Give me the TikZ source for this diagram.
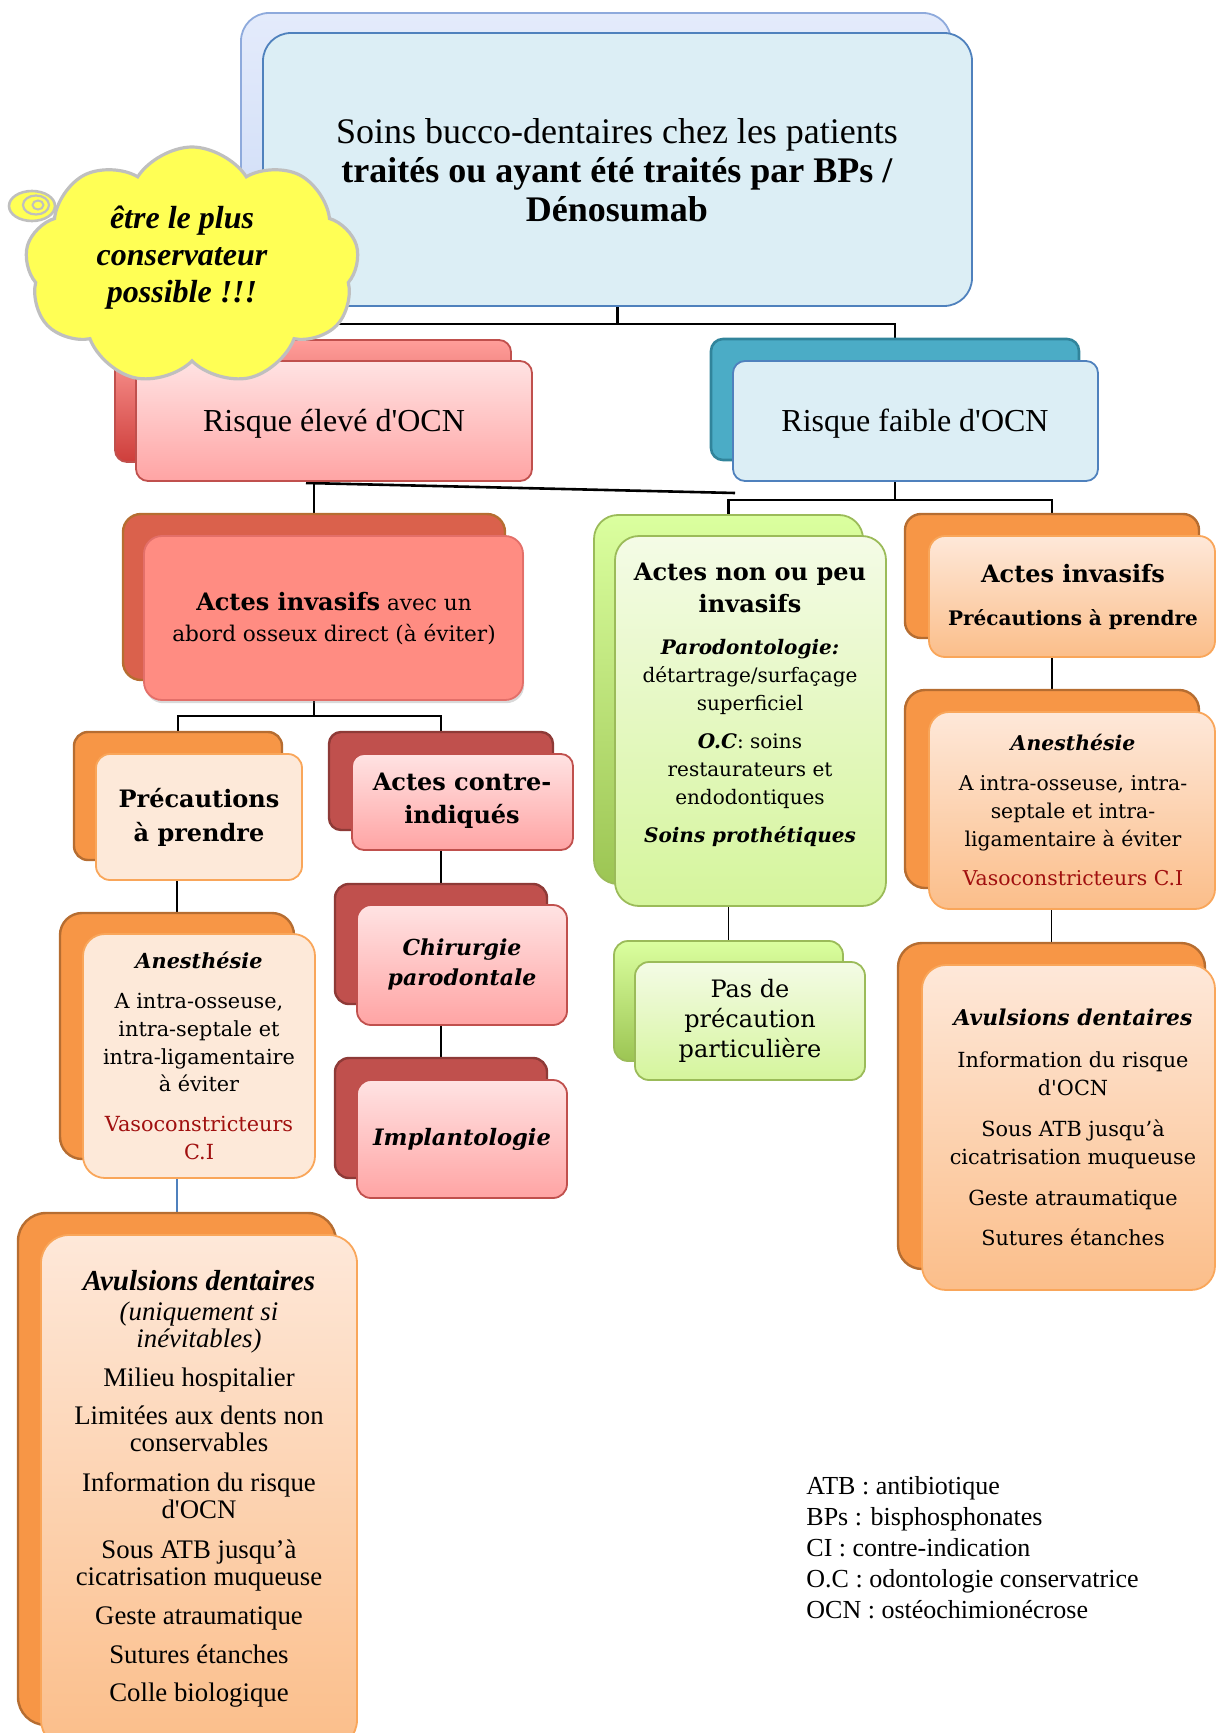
\documentclass[tikz,border=0pt]{standalone}
\usepackage{fontspec}
\setmainfont{Liberation Serif}
\newfontfamily\widefont{DejaVu Serif}
\usetikzlibrary{shapes.geometric,shapes.symbols,shadows,backgrounds,calc}

\definecolor{tbTop}{HTML}{E4EBFB}
\definecolor{tbBot}{HTML}{C9D9F6}
\definecolor{tbLine}{HTML}{8EAADC}
\definecolor{cLBlue}{HTML}{DCEEF5}
\definecolor{bLine}{HTML}{4F81BD}
\definecolor{cTeal}{HTML}{4BACC6}
\definecolor{tealLine}{HTML}{31849B}
\definecolor{elTop}{HTML}{FF9E9A}
\definecolor{elBot}{HTML}{CE3E3B}
\definecolor{rLine}{HTML}{C0504D}
\definecolor{pkTop}{HTML}{FFE3E3}
\definecolor{pkBot}{HTML}{FFA4A4}
\definecolor{aiBack}{HTML}{DA614C}
\definecolor{brLine}{HTML}{B66D31}
\definecolor{cCoral}{HTML}{FF8C82}
\definecolor{coralLine}{HTML}{E36F69}
\definecolor{cOrange}{HTML}{F79646}
\definecolor{cPeach}{HTML}{FDE9D9}
\definecolor{peachTop}{HTML}{FEE8D9}
\definecolor{peachBot}{HTML}{FBBE8A}
\definecolor{oLine}{HTML}{F9A65A}
\definecolor{dRed}{HTML}{C0504D}
\definecolor{dRedLine}{HTML}{8E3A37}
\definecolor{gBTop}{HTML}{DBFF9F}
\definecolor{gBBot}{HTML}{9CC553}
\definecolor{gLine}{HTML}{9BBB59}
\definecolor{gFTop}{HTML}{F4FBE6}
\definecolor{gFBot}{HTML}{D5F59C}
\definecolor{cYellow}{HTML}{FFFF55}
\definecolor{cGray}{HTML}{BFBFBF}
\definecolor{cRed}{HTML}{A00F0F}

\newcommand\mkbox[7][7pt]{\node[#2,rounded corners=#1,minimum width={(#6-#4)*0.5pt},minimum height={(#7-#5)*0.5pt}] (#3) at ({(#4+#6)/2},{(#5+#7)/2}) {};}
\newcommand\fsz[2]{\fontsize{#1}{#2}\selectfont}
\newcommand\sq{\textquotesingle}

\begin{document}
\begin{tikzpicture}[x=0.5pt,y=-0.5pt,
  bx/.style={rectangle,line width=0.9pt,inner sep=0pt,outer sep=0pt},
  titleB/.style={bx,draw=tbLine,top color=tbTop,bottom color=tbBot},
  titleF/.style={bx,draw=bLine,fill=cLBlue},
  elevB/.style={bx,draw=rLine,top color=elTop,bottom color=elBot},
  pinkF/.style={bx,draw=rLine,top color=pkTop,bottom color=pkBot},
  tealB/.style={bx,draw=tealLine,line width=1.3pt,fill=cTeal},
  blueF/.style={bx,draw=bLine,fill=cLBlue},
  aiBk/.style={bx,draw=brLine,line width=1.2pt,fill=aiBack},
  aiFr/.style={bx,draw=coralLine,fill=cCoral,drop shadow={shadow xshift=0.6pt,shadow yshift=-1.6pt,opacity=0.3}},
  orB/.style={bx,draw=brLine,line width=1.2pt,fill=cOrange},
  orF/.style={bx,draw=oLine,fill=cPeach},
  orG/.style={bx,draw=oLine,top color=peachTop,bottom color=peachBot},
  drB/.style={bx,draw=dRedLine,line width=1.2pt,fill=dRed},
  grB/.style={bx,draw=gLine,top color=gBTop,bottom color=gBBot},
  grF/.style={bx,draw=gLine,top color=gFTop,bottom color=gFBot},
  conn/.style={draw=black,line width=0.9pt},
  txt/.style={align=center,inner sep=0pt}]
\useasboundingbox (0,0) rectangle (1216,1733);

% ---- boxes ----
\mkbox[14pt]{titleB}{tB}{241}{13}{951}{300}
\mkbox[14pt]{titleF}{tF}{263}{33}{972}{306}

\mkbox[6pt]{elevB}{elB}{115}{340}{511}{462}
\mkbox[6pt]{pinkF}{elF}{136}{361}{532}{481}
\mkbox[6pt]{tealB}{fbB}{711}{339}{1079}{460}
\mkbox[6pt]{blueF}{fbF}{733}{361}{1098}{481}

\mkbox[9pt]{aiBk}{aiB}{123}{514}{505}{680}
\mkbox[9pt]{aiFr}{aiF}{144}{536}{523}{700}

\mkbox[7pt]{orB}{prB}{74}{732}{282}{860}
\mkbox[7pt]{orF}{prF}{96}{754}{302}{880}
\mkbox[11pt]{orB}{anLB}{60}{913}{294}{1159}
\mkbox[11pt]{orF}{anLF}{83}{934}{315}{1178}
\mkbox[14pt]{orB}{avLB}{18}{1213}{336}{1725}
\mkbox[14pt]{orG}{avLF}{41}{1235}{357}{1748}

\mkbox[6pt]{drB}{ciB}{329}{732}{553}{830}
\mkbox[6pt]{pinkF}{ciF}{352}{754}{573}{850}
\mkbox[7pt]{drB}{chB}{335}{884}{547}{1004}
\mkbox[7pt]{pinkF}{chF}{357}{905}{567}{1025}
\mkbox[7pt]{drB}{imB}{335}{1058}{547}{1178}
\mkbox[7pt]{pinkF}{imF}{357}{1080}{567}{1198}

\mkbox[12pt]{grB}{npB}{594}{515}{863}{884}
\mkbox[12pt]{grF}{npF}{615}{536}{886}{906}
\mkbox[7pt]{grB}{paB}{614}{941}{843}{1061}
\mkbox[7pt]{grF}{paF}{635}{962}{865}{1080}

\mkbox[8pt]{orB}{arB}{905}{514}{1199}{638}
\mkbox[8pt]{orG}{arF}{929}{536}{1215}{657}
\mkbox[10pt]{orB}{anRB}{905}{690}{1199}{888}
\mkbox[10pt]{orG}{anRF}{929}{712}{1215}{909}
\mkbox[12pt]{orB}{avRB}{898}{943}{1205}{1269}
\mkbox[12pt]{orG}{avRF}{922}{965}{1215}{1290}

% ---- texts ----
\node[txt,font=\fsz{18}{19.5}] (tT) at (617,170)
  {Soins bucco-dentaires chez les patients\\\textbf{traités ou ayant été traités par BPs /}\\\textbf{Dénosumab}};
\node[txt,font=\fsz{16}{19}] (elT) at (334,424) {Risque élevé d\sq OCN};
\node[txt,font=\fsz{16}{19}] (fbT) at (915,424) {Risque faible d\sq OCN};

\node[txt,font=\widefont\fsz{10.8}{15.5}] (aiT) at (334,619)
  {{\fsz{12}{15.5}\bfseries Actes invasifs} avec un\\abord osseux direct (à éviter)};

\node[txt,font=\widefont\bfseries\fsz{12}{17}] (prT) at (199,817) {Précautions\\à prendre};
\node[txt,font=\widefont\bfseries\fsz{12}{16.5}] (ciT) at (462,801) {Actes contre-\\indiqués};
\node[txt,font=\widefont\bfseries\itshape\fsz{11}{15}] (chT) at (462,964) {Chirurgie\\parodontale};
\node[txt,font=\widefont\bfseries\itshape\fsz{11.3}{15}] (imT) at (462,1139) {Implantologie};

\node[txt,font=\widefont\fsz{10.4}{13.8}] (anLT) at (199,1056)
  {{\bfseries\itshape Anesthésie}\\[6.2pt]A intra-osseuse,\\intra-septale et\\intra-ligamentaire\\à éviter\\[6.2pt]\textcolor{cRed}{Vasoconstricteurs}\\\textcolor{cRed}{C.I}};

\node[txt,font=\fsz{13.4}{13.5}] (avLT) at (199,1489)
  {{\fsz{14.5}{15}\bfseries\itshape Avulsions dentaires}\\[1.5pt]\textit{(uniquement si}\\\textit{inévitables)}\\[6pt]Milieu hospitalier\\[5.5pt]Limitées aux dents non\\conservables\\[6.5pt]Information du risque\\d\sq OCN\\[6.5pt]Sous ATB jusqu’à\\cicatrisation muqueuse\\[6pt]Geste atraumatique\\[6pt]Sutures étanches\\[5.5pt]Colle biologique};

\node[txt,font=\widefont\fsz{10}{14}] (npT) at (750,705)
  {{\bfseries\fsz{12}{16}Actes non ou peu}\\[2pt]{\bfseries\fsz{12}{16}invasifs}\\[7pt]{\bfseries\itshape Parodontologie:}\\détartrage/surfaçage\\superficiel\\[5pt]{\bfseries\itshape O.C}: soins\\restaurateurs et\\endodontiques\\[5pt]{\bfseries\itshape Soins prothétiques}};
\node[txt,font=\widefont\fsz{12}{15}] (paT) at (750,1021) {Pas de\\précaution\\particulière};

\node[txt,font=\widefont\bfseries\fsz{10}{14}] (arT) at (1073,597)
  {{\fsz{12}{14}Actes invasifs}\\[7.5pt]Précautions à prendre};
\node[txt,font=\widefont\fsz{10.2}{13.8}] (anRT) at (1073,810)
  {{\bfseries\itshape Anesthésie}\\[6.2pt]A intra-osseuse, intra-\\septale et intra-\\ligamentaire à éviter\\[5.7pt]\textcolor{cRed}{Vasoconstricteurs C.I}};
\node[txt,font=\widefont\fsz{10.4}{14}] (avRT) at (1073,1127)
  {{\bfseries\itshape\fsz{10.9}{14}Avulsions dentaires}\\[7pt]Information du risque\\d\sq OCN\\[6.5pt]Sous ATB jusqu’à\\cicatrisation muqueuse\\[6.5pt]Geste atraumatique\\[6pt]Sutures étanches};

\node[align=left,inner sep=0pt,anchor=west,font=\fsz{13}{15.5}] (leg) at (806,1548)
  {ATB : antibiotique\\BPs : bisphosphonates\\CI : contre-indication\\O.C : odontologie conservatrice\\OCN : ostéochimionécrose};

% ---- cloud ----
\node[cloud,cloud puffs=9,cloud puff arc=115,aspect=1.4,draw=cGray,fill=cYellow,line width=1.6pt,
      minimum width=167pt,minimum height=119pt,inner sep=0pt] (cl) at (192,266) {};
\node[ellipse,draw=cGray,fill=cYellow,line width=1.3pt,minimum width=23pt,minimum height=15pt,inner sep=0pt] (bb) at (32,206) {};
\node[ellipse,draw=cGray,line width=1.1pt,minimum width=13pt,minimum height=9.5pt,inner sep=0pt] (bb2) at (36,205) {};
\node[ellipse,draw=cGray,line width=1pt,minimum width=5.5pt,minimum height=4.5pt,inner sep=0pt] (bb3) at (38,205) {};
\node[txt,font=\fsz{16}{18.5}\bfseries\itshape] (clT) at (182,258) {être le plus\\conservateur\\possible !!!};

% ---- connectors ----
\begin{pgfonlayer}{background}
\draw[conn,line width=1.2pt] (tF.south) -- ++(0,18) coordinate (j1) -| (elB.north);
\draw[conn,line width=1.2pt] (j1) -| (fbB.north);
\draw[conn,line width=1.3pt] ($(elF.south)+(-28,2)$) -- ($(fbF.south west)+(2,12)$);
\draw[conn] (aiB.north |- elF.south) -- (aiB.north);
\draw[conn,line width=1.1pt] (fbB.south |- fbF.south) -- ++(0,19) coordinate (j2) -| (npB.north);
\draw[conn,line width=1.1pt] (j2) -| (arB.north);
\draw[conn] (aiB.south |- aiF.south) -- ++(0,16) coordinate (j3) -| (prB.north);
\draw[conn] (j3) -| (ciB.north);
\draw[conn] (anLB.north |- prF.south) -- (anLB.north);
\draw[conn,draw=bLine,line width=1.2pt] (avLB.north |- anLF.south) -- (avLB.north);
\draw[conn] (chB.north |- ciF.south) -- (chB.north);
\draw[conn] (imB.north |- chF.south) -- (imB.north);
\draw[conn] (paB.north |- npF.south) -- (paB.north);
\draw[conn] (anRB.north |- arF.south) -- (anRB.north);
\draw[conn] (avRB.north |- anRF.south) -- (avRB.north);
\end{pgfonlayer}
\end{tikzpicture}
\end{document}
